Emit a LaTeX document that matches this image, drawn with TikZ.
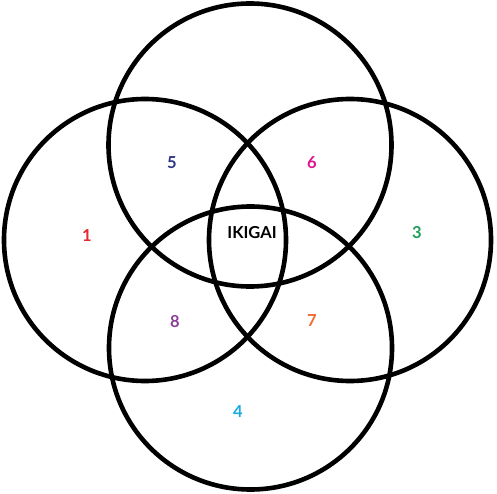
\documentclass[tikz,border=0pt]{standalone}
\usepackage{fontspec}
\setmainfont{Lato}
\begin{document}
\begin{tikzpicture}[x=1pt,y=-1pt,
  ring/.style={draw=black,line width=4.6pt},
  lbl/.style={font=\fontsize{16.5}{16.5}\selectfont\bfseries,inner sep=0pt}]
\definecolor{cOne}{HTML}{E52A2F}
\definecolor{cFive}{HTML}{2E3586}
\definecolor{cSix}{HTML}{E0138C}
\definecolor{cThree}{HTML}{1E9C5B}
\definecolor{cEight}{HTML}{8B3D97}
\definecolor{cSeven}{HTML}{EF6A32}
\definecolor{cFour}{HTML}{1AAAE2}
\useasboundingbox (0,0) rectangle (497,494);
\fill[white] (0,0) rectangle (497,494);
\coordinate (ct) at (250,145);
\coordinate (cb) at (250.5,348);
\coordinate (cl) at (145,240);
\coordinate (cr) at (350,240);
\draw[ring] (ct) circle[radius=141.5];
\draw[ring] (cb) circle[radius=141.5];
\draw[ring] (cl) circle[radius=141];
\draw[ring] (cr) circle[radius=141];
\node[lbl,text=cFive] (n5) at (172,163) {5};
\node[lbl,text=cSix] (n6) at (312,163) {6};
\node[lbl,text=cOne] (n1) at (87,236) {1};
\node[lbl,text=cThree] (n3) at (417,233) {3};
\node[lbl,text=black] (ik) at (252,233) {IKIGAI};
\node[lbl,text=cEight] (n8) at (175,322) {8};
\node[lbl,text=cSeven] (n7) at (312,321) {7};
\node[lbl,text=cFour] (n4) at (238,412) {4};
\end{tikzpicture}
\end{document}
